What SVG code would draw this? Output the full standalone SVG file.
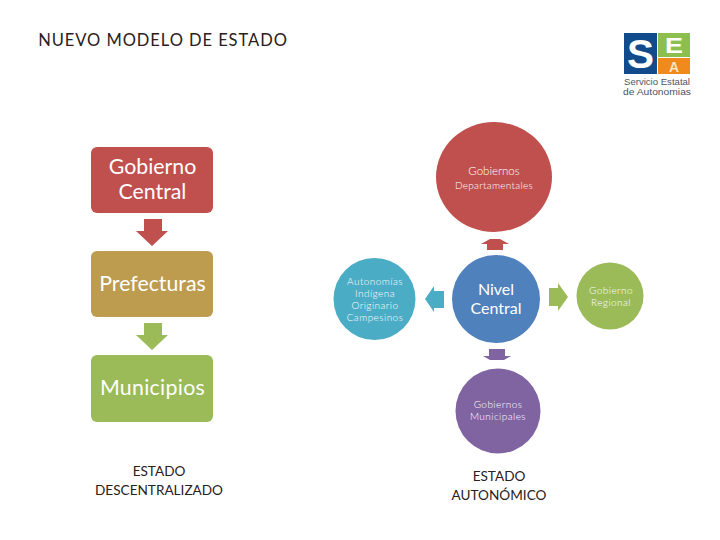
<svg xmlns="http://www.w3.org/2000/svg" width="720" height="540" viewBox="0 0 720 540">
<style>
text{font-family:Lato,"Liberation Sans",sans-serif;text-anchor:middle}
.w{fill:#fff}
.k{fill:#2a2020}
.big{font-size:21.3px}
.mid{font-size:16px}
.sm{font-size:10px;letter-spacing:.45px;font-weight:300}
.lab{font-size:13.6px}
.logo{font-family:"Liberation Sans",sans-serif}
.cap{font-size:9px;fill:#4a5468}
</style>
<rect width="720" height="540" fill="#fff"/>
<text x="163" y="46" class="k" style="font-size:16.500px;letter-spacing:.95px">NUEVO MODELO DE ESTADO</text>
<g id="logo">
<rect x="624" y="33" width="33" height="41" fill="#114b8c"/>
<text x="640.500" y="68" class="w logo" style="font-size:40px;font-weight:700" textLength="27" lengthAdjust="spacingAndGlyphs">S</text>
<rect x="658" y="33" width="32" height="24" fill="#8dbf4f"/>
<text x="674" y="52.500" class="w logo" style="font-size:22px;font-weight:700" textLength="18" lengthAdjust="spacingAndGlyphs">E</text>
<rect x="658" y="58" width="32" height="16" fill="#f08a1d"/>
<text x="674" y="72" class="logo" style="font-size:14px;font-weight:700;fill:#fbe3c4">A</text>
<text x="657" y="84.500" class="logo cap" textLength="66" lengthAdjust="spacingAndGlyphs">Servicio Estatal</text>
<text x="657" y="95" class="logo cap" textLength="68" lengthAdjust="spacingAndGlyphs">de Autonomias</text>
</g>
<g id="connectors">
<path d="M144 219H162V231H168L152 246L136 231H144Z" fill="#c0504d"/>
<path d="M144 323H162V335H168L152 350L136 335H144Z" fill="#9bbb59"/>
<path d="M490 239H500L509 244H503V250H487V244H481Z" fill="#c0504d"/>
<path d="M444 291V308H434V312L425 299L434 286V291Z" fill="#4bacc6"/>
<path d="M549 288H558V283L568 297L558 311V306H549Z" fill="#9bbb59"/>
<path d="M489 349H505V356H511L504 360H490L483 356H489Z" fill="#8064a2"/>
</g>
<g id="gobierno-central">
<rect x="91" y="147" width="122" height="66" rx="6" fill="#c0504d"/>
<text x="152.500" y="174" class="w big">Gobierno</text>
<text x="152.500" y="199" class="w big">Central</text>
</g>
<g id="prefecturas">
<rect x="91" y="251" width="122" height="66" rx="6" fill="#bd9b4f"/>
<text x="152.500" y="291" class="w big">Prefecturas</text>
</g>
<g id="municipios">
<rect x="91" y="355" width="122" height="67" rx="6" fill="#9bbb59"/>
<text x="152.500" y="395" class="w big" style="letter-spacing:.3px">Municipios</text>
</g>
<g id="estado-descentralizado">
<text x="159" y="476" class="k lab">ESTADO</text>
<text x="159" y="495" class="k lab">DESCENTRALIZADO</text>
</g>
<g id="gobiernos-departamentales">
<ellipse cx="494" cy="177" rx="58" ry="55" fill="#c0504d"/>
<text x="494" y="175" class="w" style="font-size:11.500px;font-weight:300">Gobiernos</text>
<text x="494" y="189" class="w sm" style="letter-spacing:.3px">Departamentales</text>
</g>
<g id="nivel-central">
<circle cx="496" cy="299" r="44" fill="#4f81bd"/>
<text x="496" y="295" class="w mid">Nivel</text>
<text x="496" y="314" class="w mid">Central</text>
</g>
<g id="autonomias">
<circle cx="374.500" cy="299" r="41" fill="#4bacc6"/>
<text x="375" y="285" class="w sm">Autonomías</text>
<text x="375" y="297" class="w sm">Indígena</text>
<text x="375" y="309" class="w sm">Originario</text>
<text x="375" y="321" class="w sm">Campesinos</text>
</g>
<g id="gobierno-regional">
<circle cx="610" cy="296" r="33.500" fill="#9bbb59"/>
<text x="611" y="294" class="w sm">Gobierno</text>
<text x="611" y="306" class="w sm">Regional</text>
</g>
<g id="gobiernos-municipales">
<circle cx="498" cy="411" r="42.500" fill="#8064a2"/>
<text x="498" y="408" class="w sm">Gobiernos</text>
<text x="498" y="420" class="w sm">Municipales</text>
</g>
<g id="estado-autonomico">
<text x="499" y="481" class="k lab">ESTADO</text>
<text x="499" y="500" class="k lab">AUTONÓMICO</text>
</g>
</svg>
